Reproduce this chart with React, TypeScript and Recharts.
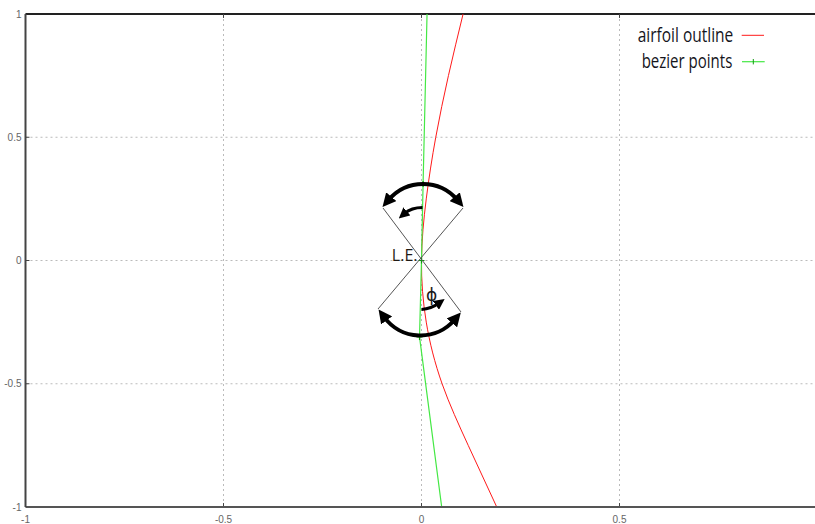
import { LineChart, Line, XAxis, YAxis, CartesianGrid, ReferenceLine, ReferenceDot } from 'recharts';

// airfoil outline near the leading edge
const outlineX = [0.105, 0.068, 0.036, 0.012, 0, 0.012, 0.052, 0.118, 0.19];
const outlineY = [1, 0.75, 0.5, 0.25, 0, -0.25, -0.5, -0.75, -1];

// bezier control points
const bezierX = [0.014, 0.004, 0, -0.005, 0.051];
const bezierY = [1, 0.31, 0, -0.31, -1];

const xTicks = [-1, -0.5, 0, 0.5, 1];
const yTicks = [-1, -0.5, 0, 0.5, 1];

const outline = outlineX.map((x, i) => ({ x, y: outlineY[i] }));
const bezier = bezierX.map((x, i) => ({ x, y: bezierY[i] }));

const TICK_FONT = '"Liberation Sans", Arial, sans-serif';

const XTick = ({ x, y, payload }: any) => {
  // the label for 1 falls outside the visible picture
  if (payload.value === 1) return <g />;
  return (
    <text x={x} y={y} textAnchor="middle" dominantBaseline="central" fontSize={10} fill="#666" fontFamily={TICK_FONT}>
      {payload.value}
    </text>
  );
};

const YTick = ({ x, y, payload }: any) => (
  <text x={x} y={y} textAnchor="end" dominantBaseline="central" fontSize={10} fill="#666" fontFamily={TICK_FONT}>
    {payload.value}
  </text>
);

const PlusDot = ({ cx, cy, payload, index }: any) => {
  if (Math.abs(payload.y) >= 1) return <g key={`d-${index}`} />;
  return <path key={`d-${index}`} d={`M${cx - 3},${cy}h6M${cx},${cy - 3}v6`} stroke="#119911" strokeWidth={1.2} fill="none" />;
};

// the angle sketch around the leading edge (pixel offsets from L.E.)
const Annotation = ({ cx, cy }: any) => (
  <g transform={`translate(${cx},${cy})`}>
    <defs>
      <marker id="arrowBig" viewBox="0 0 10 10" refX="3" refY="5" markerWidth="3.4" markerHeight="3.4" orient="auto-start-reverse" markerUnits="strokeWidth">
        <path d="M0,0 L10,5 L0,10 z" fill="#000" />
      </marker>
      <marker id="arrowSmall" viewBox="0 0 10 10" refX="3" refY="5" markerWidth="3.6" markerHeight="3.6" orient="auto" markerUnits="strokeWidth">
        <path d="M0,0 L10,5 L0,10 z" fill="#000" />
      </marker>
    </defs>
    <line x1={-38.5} y1={-52.5} x2={39.5} y2={51.5} stroke="#555" strokeWidth={1} />
    <line x1={41.5} y1={-52.5} x2={-43.5} y2={48.5} stroke="#555" strokeWidth={1} />
    <path d="M -32.8 -60.7 A 45 45 0 0 1 35.8 -60.7" stroke="#000" strokeWidth={4} fill="none" markerStart="url(#arrowBig)" markerEnd="url(#arrowBig)" />
    <path d="M -37.3 56.6 A 45 45 0 0 0 33.1 59.3" stroke="#000" strokeWidth={4} fill="none" markerStart="url(#arrowBig)" markerEnd="url(#arrowBig)" />
    <path d="M 1 -53 Q -10 -53 -17 -47" stroke="#000" strokeWidth={3} fill="none" markerEnd="url(#arrowSmall)" />
    <path d="M 0 49 Q 10 48 17 43" stroke="#000" strokeWidth={3} fill="none" markerEnd="url(#arrowSmall)" />
    <text x={-4} y={0.5} textAnchor="end" fontSize={16} fill="#1f1a14" fontFamily='"Open Sans", sans-serif'>L.E.</text>
    <text x={10} y={40} textAnchor="middle" fontSize={17} fill="#1a1a1a" fontFamily='"DejaVu Sans", sans-serif'>ϕ</text>
  </g>
);

export default function App() {
  return (
    <div style={{ position: 'absolute', left: 0, top: 0, width: 815, height: 524, overflow: 'hidden', background: '#fff' }}>
      <LineChart width={830} height={524} margin={{ top: 14, right: 12.5, bottom: 0, left: 5.5 }}>
        <CartesianGrid stroke="#bbb" strokeDasharray="2 3" />
        <XAxis
          dataKey="x"
          type="number"
          domain={[-1, 1]}
          ticks={xTicks}
          height={17}
          tickLine={false}
          tickSize={0}
          tickMargin={12}
          tick={<XTick />}
          axisLine={{ stroke: '#555', strokeWidth: 2 }}
          allowDataOverflow
        />
        <YAxis
          dataKey="y"
          type="number"
          domain={[-1, 1]}
          ticks={yTicks}
          width={20}
          tickLine={false}
          tickSize={0}
          tickMargin={4}
          tick={<YTick />}
          axisLine={{ stroke: '#444', strokeWidth: 2 }}
          allowDataOverflow
        />
        <ReferenceLine y={1} stroke="#222" strokeWidth={2} />
        {[-0.5, 0, 0.5].map((t) => (
          <ReferenceLine key={`xb${t}`} segment={[{ x: t, y: -1 }, { x: t, y: -0.984 }]} stroke="#444" strokeWidth={1} />
        ))}
        {[-0.5, 0, 0.5].map((t) => (
          <ReferenceLine key={`xt${t}`} segment={[{ x: t, y: 1 }, { x: t, y: 0.984 }]} stroke="#444" strokeWidth={1} />
        ))}
        {[-0.5, 0, 0.5].map((t) => (
          <ReferenceLine key={`yl${t}`} segment={[{ x: -1, y: t }, { x: -0.99, y: t }]} stroke="#444" strokeWidth={1} />
        ))}
        <Line data={outline} dataKey="y" type="natural" stroke="#ff1a1a" strokeWidth={1} dot={false} isAnimationActive={false} />
        <Line data={bezier} dataKey="y" stroke="#44e844" strokeWidth={1.2} dot={<PlusDot />} isAnimationActive={false} />
        <ReferenceDot x={0} y={0} r={1} shape={<Annotation />} />
      </LineChart>
      <svg width={815} height={524} style={{ position: 'absolute', left: 0, top: 0, pointerEvents: 'none' }}>
        <g fontFamily='"Open Sans", sans-serif' fontSize={20} fill="#15151c">
          <text x={637.7} y={42.3} textLength={95.6} lengthAdjust="spacingAndGlyphs">airfoil outline</text>
          <text x={641.7} y={68.3} textLength={90.6} lengthAdjust="spacingAndGlyphs">bezier points</text>
        </g>
        <line x1={741.7} y1={35.3} x2={764} y2={35.3} stroke="#ff1a1a" strokeWidth={1} />
        <line x1={742} y1={61.7} x2={764.7} y2={61.7} stroke="#44e844" strokeWidth={1.2} />
        <path d="M753.3,59v5.4" stroke="#119911" strokeWidth={1} />
      </svg>
    </div>
  );
}
